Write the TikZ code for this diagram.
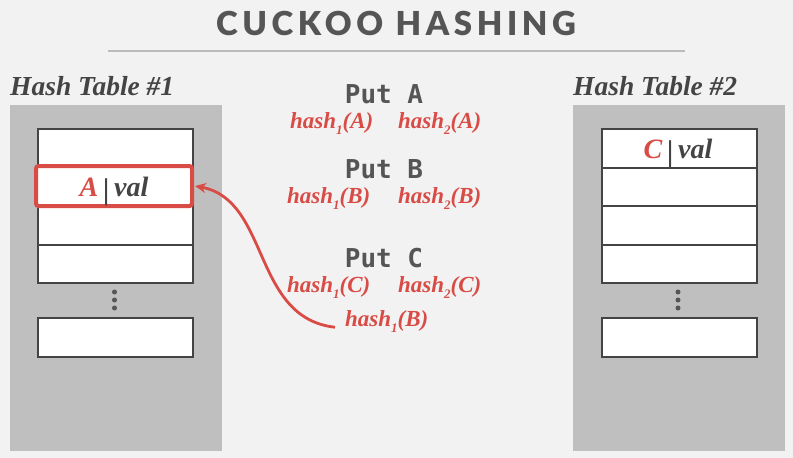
\documentclass[tikz,border=0pt]{standalone}
\usepackage{fontspec}
\setmainfont{Liberation Serif}
\newfontfamily\titlefont[LetterSpace=14]{Lato Black}
\newfontfamily\codefont{DejaVu Sans Mono Bold}
\usetikzlibrary{arrows.meta}
\definecolor{bgc}{HTML}{F2F2F2}
\definecolor{ink}{HTML}{555555}
\definecolor{labelink}{HTML}{444444}
\definecolor{cuckoored}{HTML}{D94C46}
\definecolor{panel}{HTML}{BFBFBF}
\definecolor{rulegray}{HTML}{BBBBBB}
\newcommand\hsub[1]{\raisebox{-0.28em}{\fontsize{13}{13}\selectfont #1}}
\newcommand\hcall[2]{\textbf{\textit{hash\hsub{#1}(#2)}}}
\newcommand\kv[1]{\textcolor{cuckoored}{#1}\,\textcolor{labelink}{\textup{\fontsize{30}{30}\selectfont\raisebox{-0.12em}{|}}}\,val}
\begin{document}
\begin{tikzpicture}[x=1pt,y=-1pt,
  panelbox/.style={fill=panel, draw=none},
  slot/.style={draw=labelink, line width=2.3pt, fill=white, minimum width=155pt,
    minimum height=38.5pt, inner sep=0pt, anchor=north west},
  putlabel/.style={text=ink, font=\codefont\fontsize{26}{26}\selectfont, anchor=base, inner sep=0pt},
  hashlabel/.style={text=cuckoored, font=\fontsize{23}{23}\selectfont, anchor=base west, inner sep=0pt},
  tablelabel/.style={text=labelink, font=\fontsize{27.5}{27.5}\selectfont\bfseries\itshape, anchor=base west, inner sep=0pt},
  entry/.style={font=\fontsize{28}{28}\selectfont\bfseries\itshape, text=labelink, text depth=0pt, text height=0pt},
  dot/.style={circle, fill=ink, inner sep=0pt, minimum size=5pt},
  evict/.style={draw=cuckoored, line width=2.8pt, -{Stealth[length=11pt,width=10pt]}}
]
% canvas
\fill[bgc] (0,0) rectangle (793,458);
\useasboundingbox (0,0) rectangle (793,458);

% heading and rule
\node[text=ink, font=\titlefont\fontsize{33}{33}\selectfont, anchor=base, inner sep=0pt] (title) at (396,35) {CUCKOO HASHING};
\coordinate (ruleL) at (108,51);
\coordinate (ruleR) at (685,51);
\draw[rulegray, line width=2pt] (ruleL) -- (ruleR);

% table captions
\node[tablelabel] (cap1) at (10,95) {Hash Table \#1};
\node[tablelabel] (cap2) at (573,95) {Hash Table \#2};

% table 1
\fill[panelbox] (10,105) rectangle (222,451);
\node[slot] (t1r1) at (37,128) {};
\node[slot] (t1r2) at (37,166.5) {};
\node[slot] (t1r3) at (37,205) {};
\node[slot] (t1r4) at (37,243.5) {};
\node[dot] (t1d1) at (114.5,292) {};
\node[dot] (t1d2) at (114.5,300) {};
\node[dot] (t1d3) at (114.5,308) {};
\node[slot] (t1rn) at (37,317) {};
\node[draw=cuckoored, line width=4pt, rounded corners=2.5pt, fill=white,
  minimum width=156pt, minimum height=40pt, inner sep=0pt] (slotA) at (114,186) {};
\node[entry, anchor=base] (entA) at (114,196) {\kv{A}};

% table 2
\fill[panelbox] (573,105) rectangle (785,451);
\node[slot] (t2r1) at (601,128) {};
\node[entry, anchor=base] (entC) at (678,158) {\kv{C}};
\node[slot] (t2r2) at (601,166.5) {};
\node[slot] (t2r3) at (601,205) {};
\node[slot] (t2r4) at (601,243.5) {};
\node[dot] (t2d1) at (678,292) {};
\node[dot] (t2d2) at (678,300) {};
\node[dot] (t2d3) at (678,308) {};
\node[slot] (t2rn) at (601,317) {};

% operations
\node[putlabel] (putA) at (384,103) {Put A};
\node[hashlabel] (hA1) at (290,128) {\hcall{1}{A}};
\node[hashlabel] (hA2) at (398,128) {\hcall{2}{A}};

\node[putlabel] (putB) at (384,178) {Put B};
\node[hashlabel] (hB1) at (287,203) {\hcall{1}{B}};
\node[hashlabel] (hB2) at (398,203) {\hcall{2}{B}};

\node[putlabel] (putC) at (384,267) {Put C};
\node[hashlabel] (hC1) at (287,292) {\hcall{1}{C}};
\node[hashlabel] (hC2) at (398,292) {\hcall{2}{C}};

\node[hashlabel] (hB1x) at (345,326) {\hcall{1}{B}};

% B is kicked out of table 2 back to table 1
\draw[evict] ([xshift=-10pt,yshift=-6pt]hB1x.west) .. controls (252,318) and (270,200) .. ([xshift=1pt]slotA.east);
\end{tikzpicture}
\end{document}
